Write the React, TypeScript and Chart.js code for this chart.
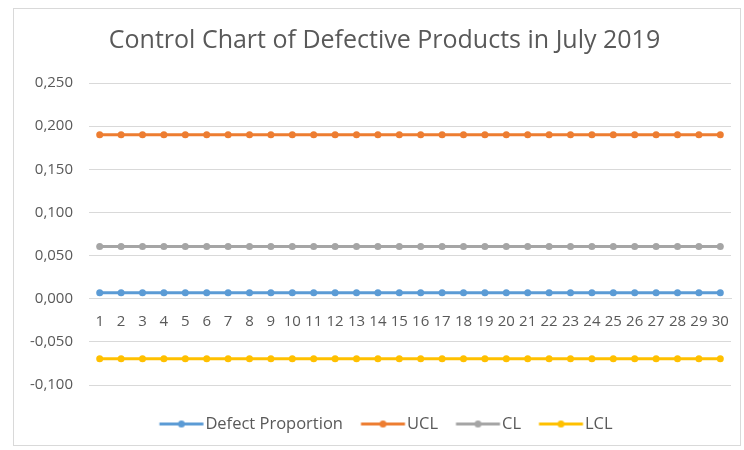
import React, { useEffect, useRef } from 'react';
import { Chart, registerables } from 'chart.js';

Chart.register(...registerables);

const TITLE = 'Control Chart of Defective Products in July 2019';
const DAYS = ['1', '2', '3', '4', '5', '6', '7', '8', '9', '10', '11', '12', '13', '14', '15', '16', '17', '18', '19', '20', '21', '22', '23', '24', '25', '26', '27', '28', '29', '30'];
const DEFECT = [0.007, 0.007, 0.007, 0.007, 0.007, 0.007, 0.007, 0.007, 0.007, 0.007, 0.007, 0.007, 0.007, 0.007, 0.007, 0.007, 0.007, 0.007, 0.007, 0.007, 0.007, 0.007, 0.007, 0.007, 0.007, 0.007, 0.007, 0.007, 0.007, 0.007];
const UCL = [0.19, 0.19, 0.19, 0.19, 0.19, 0.19, 0.19, 0.19, 0.19, 0.19, 0.19, 0.19, 0.19, 0.19, 0.19, 0.19, 0.19, 0.19, 0.19, 0.19, 0.19, 0.19, 0.19, 0.19, 0.19, 0.19, 0.19, 0.19, 0.19, 0.19];
const CL = [0.0605, 0.0605, 0.0605, 0.0605, 0.0605, 0.0605, 0.0605, 0.0605, 0.0605, 0.0605, 0.0605, 0.0605, 0.0605, 0.0605, 0.0605, 0.0605, 0.0605, 0.0605, 0.0605, 0.0605, 0.0605, 0.0605, 0.0605, 0.0605, 0.0605, 0.0605, 0.0605, 0.0605, 0.0605, 0.0605];
const LCL = [-0.0695, -0.0695, -0.0695, -0.0695, -0.0695, -0.0695, -0.0695, -0.0695, -0.0695, -0.0695, -0.0695, -0.0695, -0.0695, -0.0695, -0.0695, -0.0695, -0.0695, -0.0695, -0.0695, -0.0695, -0.0695, -0.0695, -0.0695, -0.0695, -0.0695, -0.0695, -0.0695, -0.0695, -0.0695, -0.0695];
const SERIES_NAMES = ['Defect Proportion', 'UCL', 'CL', 'LCL'];
const SERIES_COLORS = ['#5B9BD5', '#ED7D31', '#A5A5A5', '#FFC000'];
const Y_MIN = -0.1;
const Y_MAX = 0.25;
const Y_STEP = 0.05;

const FONT = "'Open Sans', 'Noto Sans', sans-serif";
const TEXT = '#595959';
const GRID = '#D9D9D9';

// legend swatch: 44px line with a dot, placed inside a wider transparent canvas
const ICON_CANVAS_W = 80;
const ICON_OFFSET = 22.625;

function legendIcon(color: string): HTMLCanvasElement {
  const c = document.createElement('canvas');
  c.width = ICON_CANVAS_W;
  c.height = 9;
  const ctx = c.getContext('2d')!;
  ctx.strokeStyle = color;
  ctx.lineWidth = 3;
  ctx.beginPath();
  ctx.moveTo(ICON_OFFSET, 4.5);
  ctx.lineTo(ICON_OFFSET + 44, 4.5);
  ctx.stroke();
  ctx.fillStyle = color;
  ctx.beginPath();
  ctx.arc(ICON_OFFSET + 22, 4.5, 3.5, 0, Math.PI * 2);
  ctx.fill();
  return c;
}

export default function App() {
  const ref = useRef<HTMLCanvasElement>(null);

  useEffect(() => {
    const seriesData = [DEFECT, UCL, CL, LCL];
    const icons = SERIES_COLORS.map(legendIcon);
    const chart = new Chart(ref.current!, {
      type: 'line',
      data: {
        labels: DAYS,
        datasets: SERIES_NAMES.map((name, i) => ({
          label: name,
          data: seriesData[i],
          borderColor: SERIES_COLORS[i],
          backgroundColor: SERIES_COLORS[i],
          pointBackgroundColor: SERIES_COLORS[i],
          pointBorderColor: SERIES_COLORS[i],
          borderWidth: 3,
          pointRadius: 3.5,
          pointBorderWidth: 0,
          tension: 0,
          xAxisID: 'x',
          yAxisID: 'y',
        })),
      },
      options: {
        animation: false,
        responsive: false,
        maintainAspectRatio: false,
        layout: { padding: { left: 25, right: 0, top: 8, bottom: 7.75 } },
        plugins: {
          tooltip: { enabled: false },
          title: {
            display: true,
            text: TITLE,
            color: TEXT,
            font: { family: FONT, size: 25, weight: 'normal' },
            padding: { top: 18, bottom: 27 },
          },
          legend: {
            position: 'bottom',
            labels: {
              color: TEXT,
              font: { family: FONT, size: 16.5 },
              usePointStyle: true,
              pointStyleWidth: 40.75,
              padding: 15,
              generateLabels: (ch: any) => {
                const base = Chart.defaults.plugins.legend.labels.generateLabels(ch);
                return base.map((item: any, i: number) => ({ ...item, pointStyle: icons[i] }));
              },
            },
          },
        },
        scales: {
          x: {
            type: 'category',
            position: { y: 0 } as any,
            offset: true,
            grid: { display: false, drawTicks: false },
            border: { display: true, color: GRID, width: 1 },
            ticks: {
              color: TEXT,
              font: { family: FONT, size: 15 },
              autoSkip: false,
              maxRotation: 0,
              minRotation: 0,
              padding: 14,
            },
          },
          x2: {
            type: 'category',
            position: 'bottom',
            display: true,
            grid: { display: false, drawTicks: false },
            border: { display: false },
            ticks: { display: false },
            afterFit: (s: any) => {
              s.height = 15.75;
            },
          },
          y: {
            type: 'linear',
            position: 'left',
            min: Y_MIN,
            max: Y_MAX,
            grid: { color: GRID, lineWidth: 1, drawTicks: false },
            border: { display: false },
            ticks: {
              stepSize: Y_STEP,
              color: TEXT,
              font: { family: FONT, size: 15 },
              padding: 16,
              callback: (v: any) => {
                const n = Math.abs(Number(v)) < 1e-9 ? 0 : Number(v);
                return n.toFixed(3).replace('.', ',');
              },
            },
            afterFit: (s: any) => {
              s.width = 64;
            },
          },
          y2: {
            type: 'linear',
            position: 'right',
            display: true,
            grid: { display: false, drawTicks: false },
            border: { display: false },
            ticks: { display: false },
            afterFit: (s: any) => {
              s.width = 13;
            },
          },
        },
      },
    });
    return () => chart.destroy();
  }, []);

  return (
    <div style={{ position: 'absolute', left: 0, top: 0, width: 744, height: 450, background: '#fff' }}>
      <canvas ref={ref} width={744} height={450} style={{ position: 'absolute', left: 0, top: 0, width: 744, height: 450 }} />
      <div
        style={{
          position: 'absolute',
          left: 13,
          top: 8,
          width: 726,
          height: 436,
          border: '1px solid #D9D9D9',
          pointerEvents: 'none',
        }}
      />
    </div>
  );
}
